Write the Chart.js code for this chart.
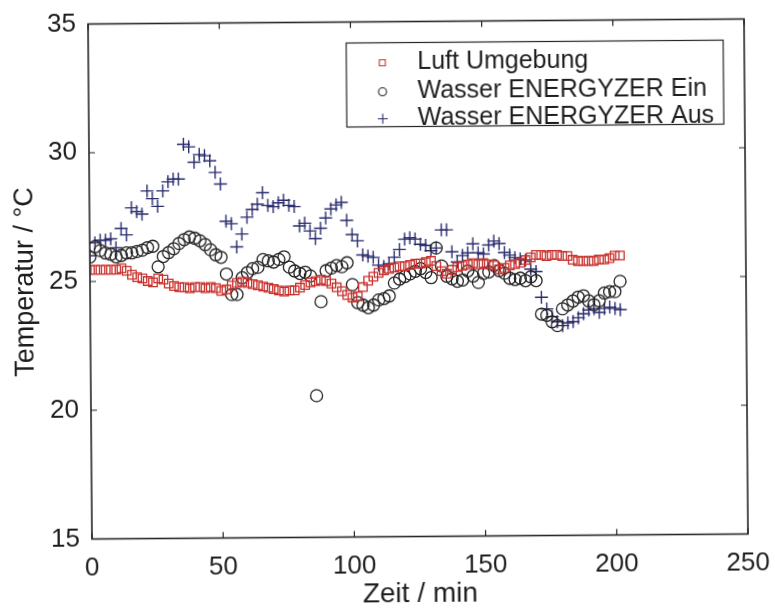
<!DOCTYPE html>
<html>
<head>
<meta charset="utf-8">
<script src="https://cdn.jsdelivr.net/npm/chart.js@4.4.1/dist/chart.umd.min.js"></script>
<style>
  html, body { margin: 0; padding: 0; background: #fff; }
  #tempChart { display: block; transform: rotate(-0.44deg); transform-origin: 418px 279px; }
</style>
</head>
<body>
<canvas id="tempChart" width="775" height="610"></canvas>
<script>
// Measurement time in minutes (one sample every 2 min)
const zeit = [
  0, 2, 4, 6, 8, 10, 12, 14, 16, 18,
  20, 22, 24, 26, 28, 30, 32, 34, 36, 38,
  40, 42, 44, 46, 48, 50, 52, 54, 56, 58,
  60, 62, 64, 66, 68, 70, 72, 74, 76, 78,
  80, 82, 84, 86, 88, 90, 92, 94, 96, 98,
  100, 102, 104, 106, 108, 110, 112, 114, 116, 118,
  120, 122, 124, 126, 128, 130, 132, 134, 136, 138,
  140, 142, 144, 146, 148, 150, 152, 154, 156, 158,
  160, 162, 164, 166, 168, 170, 172, 174, 176, 178,
  180, 182, 184, 186, 188, 190, 192, 194, 196, 198,
  200, 202
];

// Ambient air temperature (°C)
const luftUmgebung = [
  25.45, 25.45, 25.45, 25.45, 25.45, 25.45, 25.5, 25.4, 25.25, 25.15,
  25.1, 25.0, 24.95, 25.1, 25.05, 24.9, 24.8, 24.75, 24.75, 24.7,
  24.75, 24.75, 24.7, 24.75, 24.7, 24.6, 24.65, 24.8, 24.9, 24.95,
  24.9, 24.85, 24.8, 24.75, 24.7, 24.65, 24.6, 24.55, 24.6, 24.6,
  24.7, 24.8, 24.9, 24.95, 25.0, 24.95, 24.85, 24.7, 24.55, 24.4,
  24.3, 24.35, 24.7, 24.95, 25.1, 25.25, 25.35, 25.4, 25.45, 25.5,
  25.5, 25.55, 25.6, 25.6, 25.65, 25.7, 25.5, 25.3, 25.2, 25.35,
  25.45, 25.5, 25.55, 25.6, 25.55, 25.6, 25.55, 25.5, 25.35, 25.4,
  25.5, 25.55, 25.6, 25.7, 25.8, 25.9, 25.9, 25.85, 25.9, 25.9,
  25.85, 25.85, 25.7, 25.65, 25.65, 25.65, 25.65, 25.7, 25.7, 25.75,
  25.85, 25.85
];

// Water temperature at ENERGYZER inlet (°C)
const wasserEin = [
  25.95, 26.35, 26.2, 26.1, 26.05, 25.95, 26.0, 26.1, 26.1, 26.15,
  26.2, 26.3, 26.35, 25.55, 25.95, 26.1, 26.25, 26.45, 26.6, 26.7,
  26.65, 26.55, 26.4, 26.2, 26.0, 25.9, 25.25, 24.45, 24.45, 25.1,
  25.3, 25.45, 25.5, 25.8, 25.75, 25.7, 25.8, 25.9, 25.5, 25.35,
  25.25, 25.3, 25.15, 20.5, 24.15, 25.35, 25.45, 25.55, 25.5, 25.65,
  24.8, 24.1, 24.0, 23.9, 24.0, 24.2, 24.25, 24.35, 24.85, 25.0,
  25.1, 25.2, 25.3, 25.4, 25.25, 25.05, 26.2, 25.5, 25.1, 25.0,
  24.9, 24.95, 25.3, 25.1, 24.85, 25.2, 25.25, 25.5, 25.3, 25.2,
  25.0, 24.95, 25.0, 24.9, 25.05, 24.9, 23.6, 23.55, 23.3, 23.15,
  23.8, 23.95, 24.1, 24.25, 24.3, 24.1, 23.95, 24.1, 24.4, 24.45,
  24.45, 24.85
];

// Water temperature at ENERGYZER outlet (°C)
const wasserAus = [
  26.0, 26.5, 26.6, 26.6, 26.65, 26.3, 27.05, 26.8, 27.85, 27.7,
  27.6, 28.5, 28.2, 27.9, 28.5, 28.85, 28.95, 28.95, 30.3, 30.2,
  29.6, 29.9, 29.85, 29.65, 29.2, 28.75, 27.3, 27.2, 26.3, 26.8,
  27.45, 27.75, 27.95, 28.4, 27.9, 27.85, 28.0, 28.1, 27.9, 27.85,
  27.1, 27.2, 26.9, 26.6, 27.0, 27.4, 27.75, 27.9, 28.0, 27.3,
  26.75, 26.5, 25.95, 25.9, 25.85, 25.55, 25.5, 25.6, 25.85, 26.15,
  26.55, 26.6, 26.55, 26.35, 26.3, 26.1, 26.2, 26.9, 26.9, 26.05,
  25.65, 25.9, 26.0, 26.35, 26.0, 25.95, 26.3, 26.45, 26.35, 26.0,
  25.9, 25.8, 25.75, 25.7, 25.35, 25.25, 24.25, 23.8, 23.5, 23.3,
  23.15, 23.25, 23.3, 23.45, 23.6, 23.75, 23.8, 23.65, 23.8, 23.85,
  23.8, 23.75
];

const xTicks = [0, 50, 100, 150, 200, 250];
const yTicks = [15, 20, 25, 30, 35];

const FONT = '"Liberation Sans", Arial, sans-serif';
const INK = '#1e1e1e';

function toPoints(values) {
  return values.map((v, i) => ({ x: zeit[i], y: v }));
}

// Box around the plot with short tick marks pointing inwards on all four sides
const frameTicks = {
  id: 'frameTicks',
  afterDatasetsDraw(chart) {
    const { ctx, chartArea: a, scales } = chart;
    ctx.save();
    ctx.strokeStyle = '#262626';
    ctx.lineWidth = 1.6;
    ctx.strokeRect(a.left, a.top, a.right - a.left, a.bottom - a.top);
    ctx.lineWidth = 1.2;
    ctx.beginPath();
    xTicks.forEach(v => {
      const x = scales.x.getPixelForValue(v);
      ctx.moveTo(x, a.bottom); ctx.lineTo(x, a.bottom - 6);
      ctx.moveTo(x, a.top); ctx.lineTo(x, a.top + 6);
    });
    yTicks.forEach(v => {
      const y = scales.y.getPixelForValue(v);
      ctx.moveTo(a.left, y); ctx.lineTo(a.left + 6, y);
      ctx.moveTo(a.right, y); ctx.lineTo(a.right - 6, y);
    });
    ctx.stroke();
    ctx.restore();
  }
};

// Legend box in the upper right corner of the plot
const boxLegend = {
  id: 'boxLegend',
  afterDraw(chart) {
    const ctx = chart.ctx;
    const a = chart.chartArea;
    const w = 377, h = 84;
    const left = a.right - 21 - w, top = a.top + 21;
    ctx.save();
    ctx.fillStyle = '#fff';
    ctx.fillRect(left, top, w, h);
    ctx.strokeStyle = '#262626';
    ctx.lineWidth = 1.2;
    ctx.strokeRect(left, top, w, h);

    const mx = left + 36, tx = left + 71;
    const rows = [top + 20, top + 49, top + 76];
    chart.data.datasets.forEach((ds, i) => {
      const y = rows[i];
      ctx.strokeStyle = ds.borderColor;
      ctx.lineWidth = 1.1;
      ctx.beginPath();
      if (ds.pointStyle === 'rect') {
        ctx.rect(mx - 3, y - 3, 6, 6);
      } else if (ds.pointStyle === 'circle') {
        ctx.arc(mx, y, 4, 0, Math.PI * 2);
      } else {
        ctx.moveTo(mx - 5, y); ctx.lineTo(mx + 5, y);
        ctx.moveTo(mx, y - 5); ctx.lineTo(mx, y + 5);
      }
      ctx.stroke();
      ctx.fillStyle = INK;
      ctx.font = '25px ' + FONT;
      ctx.textBaseline = 'middle';
      ctx.fillText(ds.label, tx, y);
    });
    ctx.restore();
  }
};

new Chart(document.getElementById('tempChart'), {
  type: 'scatter',
  data: {
    datasets: [
      {
        label: 'Luft Umgebung',
        data: toPoints(luftUmgebung),
        pointStyle: 'rect',
        pointRadius: 6,
        borderColor: '#c8322e',
        backgroundColor: 'transparent',
        borderWidth: 1.3
      },
      {
        label: 'Wasser ENERGYZER Ein',
        data: toPoints(wasserEin),
        pointStyle: 'circle',
        pointRadius: 6,
        borderColor: '#222222',
        backgroundColor: 'transparent',
        borderWidth: 1.3
      },
      {
        label: 'Wasser ENERGYZER Aus',
        data: toPoints(wasserAus),
        pointStyle: 'cross',
        pointRadius: 6.5,
        borderColor: '#2a2d6e',
        backgroundColor: 'transparent',
        borderWidth: 1.4
      }
    ]
  },
  options: {
    responsive: false,
    animation: false,
    layout: { padding: { left: 0, right: 29, top: 21.5, bottom: 0 } },
    plugins: {
      legend: { display: false },
      tooltip: { enabled: false }
    },
    scales: {
      x: {
        type: 'linear',
        min: 0,
        max: 250,
        afterBuildTicks: s => { s.ticks = xTicks.map(v => ({ value: v })); },
        afterFit: s => {
          s.height = 73.5;
          s.paddingLeft = 0;
          s.paddingRight = 0;
        },
        grid: { display: false, drawTicks: false },
        border: { display: false },
        ticks: { color: INK, font: { family: FONT, size: 26 }, padding: 14, maxRotation: 0 },
        title: {
          display: true,
          text: 'Zeit / min',
          color: INK,
          font: { family: FONT, size: 28 },
          padding: { top: 0, bottom: -1 }
        }
      },
      y: {
        type: 'linear',
        min: 15,
        max: 35,
        afterBuildTicks: s => { s.ticks = yTicks.map(v => ({ value: v })); },
        afterFit: s => {
          s.width = 90;
          s.paddingTop = 0;
          s.paddingBottom = 0;
        },
        grid: { display: false, drawTicks: false },
        border: { display: false },
        ticks: { color: INK, font: { family: FONT, size: 26 }, padding: 12 },
        title: {
          display: true,
          text: 'Temperatur / °C',
          color: INK,
          font: { family: FONT, size: 27 },
          padding: { top: 9, bottom: 0 }
        }
      }
    }
  },
  plugins: [frameTicks, boxLegend]
});
</script>
</body>
</html>
